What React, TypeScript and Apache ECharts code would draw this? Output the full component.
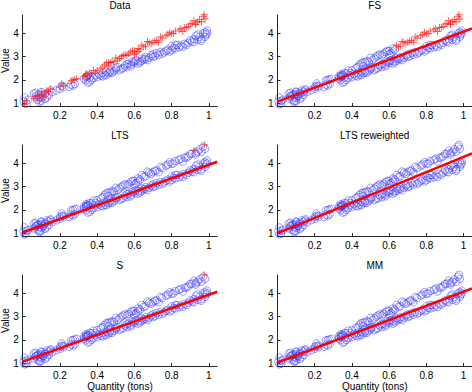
import React, { useEffect, useRef } from "react";
import * as echarts from "echarts";

// Lower group (blue circles in "Data")
const lowX = [0.005, 0.01, 0.02, 0.06, 0.07, 0.08, 0.085, 0.09, 0.1, 0.1, 0.11, 0.12, 0.13, 0.15, 0.16, 0.2, 0.21, 0.25, 0.26, 0.27, 0.28,
  0.33, 0.34, 0.345, 0.35, 0.36, 0.37, 0.39, 0.4, 0.42, 0.43, 0.44, 0.45, 0.46, 0.47, 0.48, 0.5, 0.51, 0.52, 0.54, 0.55, 0.56, 0.57,
  0.58, 0.59, 0.6, 0.61, 0.62, 0.63, 0.64, 0.65, 0.66, 0.68, 0.69, 0.7, 0.71, 0.72, 0.74, 0.75, 0.77, 0.78, 0.79, 0.8, 0.81, 0.82,
  0.83, 0.84, 0.85, 0.87, 0.88, 0.9, 0.91, 0.92, 0.93, 0.94, 0.95, 0.96, 0.97, 0.98, 0.99, 0.985,
  0.03, 0.07, 0.09, 0.1, 0.12, 0.14, 0.18, 0.22, 0.34, 0.35, 0.36, 0.38, 0.41, 0.43, 0.45, 0.47, 0.49, 0.5, 0.53, 0.56, 0.58, 0.6,
  0.62, 0.64, 0.66, 0.67, 0.7, 0.73, 0.76, 0.8, 0.82, 0.86, 0.89, 0.92, 0.94, 0.96, 0.98, 0.99];
const lowY = [1.08, 1.25, 0.98, 1.42, 1.3, 1.15, 1.38, 1.05, 1.48, 1.22, 1.32, 1.4, 1.25, 1.55, 1.48, 1.62, 1.75, 1.7, 1.8, 1.75, 1.82,
  2.05, 1.98, 2.15, 1.88, 2.1, 2.0, 2.2, 2.12, 2.18, 2.3, 2.22, 2.35, 2.28, 2.4, 2.3, 2.45, 2.55, 2.42, 2.5, 2.62, 2.55, 2.7,
  2.65, 2.78, 2.72, 2.85, 2.8, 2.75, 2.92, 2.88, 2.98, 2.95, 3.05, 3.1, 3.02, 3.15, 3.2, 3.12, 3.25, 3.3, 3.22, 3.45, 3.38, 3.35,
  3.5, 3.4, 3.48, 3.55, 3.5, 3.7, 3.65, 3.75, 3.9, 3.72, 3.85, 3.68, 4.0, 4.05, 4.12, 3.95,
  1.15, 1.45, 1.28, 1.1, 1.18, 1.35, 1.55, 1.68, 2.12, 2.22, 1.92, 2.08, 2.25, 2.15, 2.2, 2.32, 2.38, 2.52, 2.48, 2.68, 2.58, 2.8,
  2.7, 2.82, 2.9, 2.85, 2.98, 3.08, 3.18, 3.28, 3.5, 3.42, 3.6, 3.62, 3.95, 3.75, 3.85, 4.0];

// Upper group (red crosses in "Data")
const upX = [0.01, 0.06, 0.08, 0.09, 0.1, 0.11, 0.12, 0.13, 0.15, 0.21, 0.22, 0.27, 0.28, 0.33, 0.34, 0.35, 0.36, 0.38, 0.39, 0.42,
  0.44, 0.45, 0.46, 0.47, 0.48, 0.5, 0.51, 0.53, 0.55, 0.56, 0.58, 0.6, 0.61, 0.62, 0.63, 0.64, 0.65, 0.67, 0.69, 0.7, 0.72, 0.74,
  0.77, 0.79, 0.8, 0.82, 0.85, 0.87, 0.89, 0.9, 0.92, 0.93, 0.94, 0.95, 0.97, 0.975,
  0.02, 0.07, 0.1, 0.14, 0.2, 0.26, 0.29, 0.34, 0.37, 0.4, 0.43, 0.46, 0.49, 0.52, 0.54, 0.57, 0.59, 0.6, 0.62, 0.66, 0.68, 0.71,
  0.73, 0.75, 0.78, 0.81, 0.84, 0.86, 0.88, 0.91, 0.93, 0.96, 0.98];
const upY = [0.95, 1.2, 1.35, 1.1, 1.5, 1.3, 1.45, 1.55, 1.6, 1.85, 1.75, 2.0, 2.02, 2.15, 2.25, 2.2, 2.3, 2.4, 2.3, 2.5,
  2.65, 2.72, 2.6, 2.75, 2.8, 2.95, 2.85, 3.0, 3.1, 3.05, 3.2, 3.25, 3.15, 3.35, 3.3, 3.5, 3.42, 3.65, 3.55, 3.62, 3.7, 3.85,
  3.9, 4.05, 3.98, 4.1, 4.2, 4.25, 4.3, 4.4, 4.55, 4.45, 4.5, 4.6, 4.72, 4.8,
  1.1, 1.3, 1.38, 1.5, 1.7, 1.98, 2.05, 2.18, 2.28, 2.42, 2.55, 2.75, 2.78, 2.92, 3.05, 3.12, 3.25, 3.1, 3.22, 3.45, 3.6, 3.68,
  3.62, 3.8, 3.95, 4.0, 4.15, 4.08, 4.25, 4.42, 4.38, 4.5, 4.62];

const titles = ["Data", "FS", "LTS", "LTS reweighted", "S", "MM"];
// fitted line values at x = 0 and x = xMax (null = no line)
const fitStart = [null, 1.07, 1.03, 1.0, 1.07, 1.03];
const fitEnd = [null, 4.21, 4.07, 4.43, 4.07, 4.21];
// which upper-group points are flagged as outliers (by x) in each panel
const fsOutlierMinX = 0.64;
const ltsOutlierX = [0.92, 0.975];
const sOutlierX = [0.975];

const xTicks = [0.2, 0.4, 0.6, 0.8, 1];
const yTicks = [1, 2, 3, 4];
const xMin = 0, xMax = 1.045, yMin = 0.88, yMax = 4.79;

const FONT = "Liberation Sans, Arial, Helvetica, sans-serif";
const PLUS = "path://M4.4,0H5.6V4.4H10V5.6H5.6V10H4.4V5.6H0V4.4H4.4Z";

function outlierFlags(panel: number): boolean[] {
  return upX.map((x, k) => {
    if (panel === 0) return true;
    if (panel === 1) return x >= fsOutlierMinX;
    if (panel === 2) return k < 56 && ltsOutlierX.includes(x);
    if (panel === 4) return k < 56 && sOutlierX.includes(x);
    return false;
  });
}

export default function App() {
  const ref = useRef<HTMLDivElement>(null);
  useEffect(() => {
    if (!ref.current) return;
    const chart = echarts.init(ref.current, undefined, { renderer: "svg" });
    const colLeft = [22.7, 277.5];
    const pw = 194.5;
    const rowTop = [15, 145, 275];
    const ph = 91;
    const grids: any[] = [], xAxes: any[] = [], yAxes: any[] = [], series: any[] = [], graphics: any[] = [];
    for (let i = 0; i < 6; i++) {
      const c = i % 2, r = Math.floor(i / 2);
      grids.push({ left: colLeft[c], top: rowTop[r], width: pw, height: ph, containLabel: false, outerBoundsMode: "none" });
      xAxes.push({
        type: "value", gridIndex: i, min: xMin, max: xMax,
        axisLine: { show: true, lineStyle: { color: "#262626", width: 1 } },
        axisTick: { show: true, inside: true, length: 3, customValues: xTicks, lineStyle: { color: "#262626" } },
        axisLabel: { customValues: xTicks, fontSize: 10, color: "#000", fontFamily: FONT, margin: 4 },
        splitLine: { show: false },
      });
      yAxes.push({
        type: "value", gridIndex: i, min: yMin, max: yMax,
        axisLine: { show: true, lineStyle: { color: "#262626", width: 1 } },
        axisTick: { show: true, inside: true, length: 3, customValues: yTicks, lineStyle: { color: "#262626" } },
        axisLabel: { customValues: yTicks, fontSize: 10, color: "#000", fontFamily: FONT, margin: 4 },
        splitLine: { show: false },
      });
      const flags = outlierFlags(i);
      const blue: number[][] = lowX.map((x, k) => [x, lowY[k]]);
      const red: number[][] = [];
      upX.forEach((x, k) => {
        if (flags[k]) red.push([x, upY[k]]);
        else blue.push([x, upY[k]]);
      });
      series.push({
        type: "scatter", xAxisIndex: i, yAxisIndex: i, data: blue, symbol: "circle", symbolSize: 7.5, clip: false,
        itemStyle: { color: "rgba(0,0,0,0)", borderColor: "#2f2fff", borderWidth: 0.6 }, z: 2,
      });
      series.push({
        type: "scatter", xAxisIndex: i, yAxisIndex: i, data: red, symbol: PLUS, symbolSize: 7, clip: false,
        itemStyle: { color: "#ff1a1a" }, z: 3,
      });
      if (fitStart[i] !== null) {
        series.push({
          type: "line", xAxisIndex: i, yAxisIndex: i, data: [[xMin, fitStart[i]], [xMax, fitEnd[i]]],
          symbol: "none", lineStyle: { color: "#ff0000", width: 2.5 }, z: 4,
        });
      }
      graphics.push({
        type: "text", x: colLeft[c] + pw / 2, y: rowTop[r] - 10,
        style: { text: titles[i], fontSize: 10, fontFamily: FONT, fill: "#000", textAlign: "center", textVerticalAlign: "middle" },
      });
      if (c === 0) {
        graphics.push({
          type: "text", x: 5, y: rowTop[r] + ph / 2, rotation: Math.PI / 2,
          style: { text: "Value", fontSize: 10, fontFamily: FONT, fill: "#000", textAlign: "center", textVerticalAlign: "middle" },
        });
      }
      if (r === 2) {
        graphics.push({
          type: "text", x: colLeft[c] + pw / 2, y: 386,
          style: { text: "Quantity (tons)", fontSize: 10, fontFamily: FONT, fill: "#000", textAlign: "center", textVerticalAlign: "middle" },
        });
      }
    }
    chart.setOption({
      animation: false,
      backgroundColor: "#fff",
      grid: grids,
      xAxis: xAxes,
      yAxis: yAxes,
      series,
      graphic: graphics,
    });
    return () => chart.dispose();
  }, []);
  return <div ref={ref} style={{ position: "fixed", left: 0, top: 0, width: 472, height: 392 }} />;
}
